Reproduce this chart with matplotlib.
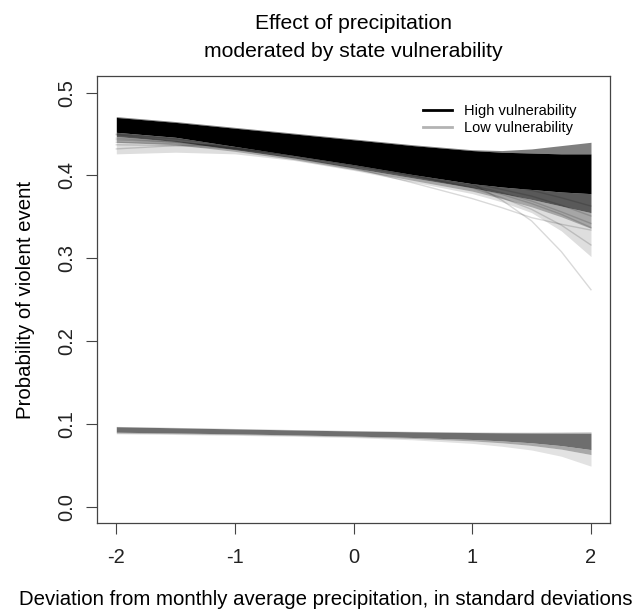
import matplotlib
matplotlib.use("Agg")
import matplotlib.pyplot as plt
from matplotlib.lines import Line2D

plt.rcParams['font.family'] = ['Liberation Sans', 'DejaVu Sans']

# precipitation deviation grid (standard deviations)
x_grid = [-2, -1.5, -1, -0.5, 0, 0.5, 1, 1.25, 1.5, 1.75, 2]

# high vulnerability: envelope of the simulated curves
high_outer_top = [0.471, 0.465, 0.458, 0.451, 0.444, 0.437, 0.431, 0.430, 0.432, 0.436, 0.440]
high_core_top = [0.470, 0.464, 0.457, 0.450, 0.443, 0.436, 0.430, 0.428, 0.427, 0.426, 0.426]
high_core_bot = [0.452, 0.446, 0.435, 0.424, 0.413, 0.401, 0.390, 0.386, 0.383, 0.380, 0.378]
high_mid_bot = [0.447, 0.441, 0.431, 0.421, 0.409, 0.397, 0.385, 0.378, 0.371, 0.363, 0.355]
high_mid2_bot = [0.440, 0.437, 0.429, 0.419, 0.407, 0.394, 0.381, 0.372, 0.362, 0.350, 0.336]
high_outer_bot = [0.426, 0.428, 0.426, 0.418, 0.406, 0.392, 0.378, 0.368, 0.355, 0.333, 0.302]

# a few stray high-vulnerability draws
high_strays = [
    [0.432, 0.436, 0.437, 0.433, 0.424, 0.411, 0.390, 0.370, 0.345, 0.308, 0.262],
    [0.449, 0.441, 0.432, 0.421, 0.409, 0.391, 0.372, 0.361, 0.349, 0.341, 0.334],
    [0.440, 0.438, 0.433, 0.425, 0.414, 0.400, 0.385, 0.373, 0.359, 0.340, 0.316],
    [0.445, 0.440, 0.433, 0.424, 0.412, 0.399, 0.386, 0.377, 0.366, 0.353, 0.337],
    [0.437, 0.436, 0.432, 0.424, 0.413, 0.401, 0.388, 0.379, 0.369, 0.356, 0.342],
    [0.443, 0.440, 0.434, 0.426, 0.415, 0.403, 0.391, 0.383, 0.375, 0.364, 0.351],
    [0.450, 0.444, 0.436, 0.427, 0.416, 0.405, 0.394, 0.388, 0.382, 0.373, 0.363],
]

# low vulnerability envelope
low_outer_top = [0.0970, 0.0958, 0.0945, 0.0932, 0.0920, 0.0910, 0.0902, 0.0900, 0.0900, 0.0902, 0.0905]
low_core_top = [0.0966, 0.0953, 0.0940, 0.0927, 0.0915, 0.0905, 0.0896, 0.0893, 0.0891, 0.0890, 0.0889]
low_core_bot = [0.0900, 0.0890, 0.0880, 0.0867, 0.0853, 0.0836, 0.0812, 0.0795, 0.0772, 0.0738, 0.0690]
low_mid_bot = [0.0890, 0.0882, 0.0872, 0.0860, 0.0845, 0.0825, 0.0795, 0.0772, 0.0740, 0.0695, 0.0630]
low_outer_bot = [0.0880, 0.0872, 0.0862, 0.0850, 0.0835, 0.0808, 0.0765, 0.0730, 0.0685, 0.0610, 0.0490]

x_ticks = [-2, -1, 0, 1, 2]
y_ticks = [0.0, 0.1, 0.2, 0.3, 0.4, 0.5]

fig = plt.figure(figsize=(6.41, 6.10), dpi=100)
ax = fig.add_axes([0.1518, 0.1421, 0.7998, 0.7333])

# high vulnerability band, densest in the middle
ax.fill_between(x_grid, high_outer_bot, high_mid2_bot, color='black', alpha=0.13, lw=0)
ax.fill_between(x_grid, high_mid2_bot, high_mid_bot, color='black', alpha=0.35, lw=0)
ax.fill_between(x_grid, high_mid_bot, high_core_bot, color='black', alpha=0.65, lw=0)
ax.fill_between(x_grid, high_core_top, high_outer_top, color='black', alpha=0.5, lw=0)
ax.fill_between(x_grid, high_core_bot, high_core_top, color='black', lw=0)
for ys in high_strays:
    ax.plot(x_grid, ys, color='black', alpha=0.15, lw=1)

# low vulnerability band
ax.fill_between(x_grid, low_outer_bot, low_mid_bot, color='#6e6e6e', alpha=0.2, lw=0)
ax.fill_between(x_grid, low_mid_bot, low_core_bot, color='#6e6e6e', alpha=0.6, lw=0)
ax.fill_between(x_grid, low_core_top, low_outer_top, color='#6e6e6e', alpha=0.4, lw=0)
ax.fill_between(x_grid, low_core_bot, low_core_top, color='#6e6e6e', lw=0)

ax.set_xlim(-2.16, 2.16)
ax.set_ylim(-0.02, 0.52)
ax.set_xticks(x_ticks)
ax.set_xticklabels([str(t) for t in x_ticks])
ax.set_yticks(y_ticks)
ax.set_yticklabels([f"{t:.1f}" for t in y_ticks], rotation=90, va='center')
ax.tick_params(axis='both', direction='out', length=8, width=0.8, color='#444444',
               labelsize=14.5, colors='#222222')
ax.tick_params(axis='x', pad=10)
ax.tick_params(axis='y', pad=7)
for s in ax.spines.values():
    s.set_color('#444444')
    s.set_linewidth(0.9)

ax.set_xlabel('Deviation from monthly average precipitation, in standard deviations',
              fontsize=14.7)
ax.xaxis.set_label_coords(0.446, -0.149)
ax.set_ylabel('Probability of violent event', fontsize=14.7, labelpad=16)
ax.set_title('Effect of precipitation\nmoderated by state vulnerability', fontsize=15.2, pad=14,
             linespacing=1.55)

handles = [Line2D([], [], color='black', lw=2),
           Line2D([], [], color='#b3b3b3', lw=2)]
ax.legend(handles, ['High vulnerability', 'Low vulnerability'], loc='upper left',
          bbox_to_anchor=(0.621, 0.954), frameon=False, fontsize=10.5, borderpad=0,
          handlelength=2.0, handletextpad=0.8, labelspacing=0.2)

fig.savefig('out.png', dpi=100)
